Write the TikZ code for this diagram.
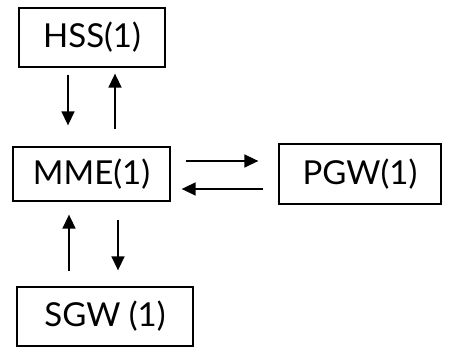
\documentclass[tikz,border=0pt]{standalone}
\usepackage{fontspec}
\setmainfont{Lato}
\usetikzlibrary{arrows.meta}
\begin{document}
\begin{tikzpicture}[x=1pt,y=1pt,
  box/.style={draw,line width=1.3pt,inner sep=0pt,font=\fontsize{33}{33}\selectfont},
  flow/.style={line width=1.5pt,-{Triangle[length=14pt,width=13pt]}}]
  \useasboundingbox (0,0) rectangle (452,347);
  \node[box,minimum width=146,minimum height=59] (hss) at (92,309.5) {HSS(1)};
  \node[box,minimum width=157,minimum height=54] (mme) at (91.5,173) {MME(1)};
  \node[box,minimum width=162,minimum height=60] (pgw) at (360,173) {PGW(1)};
  \node[box,minimum width=176,minimum height=59] (sgw) at (105,30.5) {SGW (1)};
  % hss <-> mme
  \draw[flow,shorten <=7pt,shorten >=21pt] ([xshift=-24pt]hss.south) -- ([xshift=-24pt]hss.south |- mme.north);
  \draw[flow,shorten <=17pt,shorten >=6pt] ([xshift=23pt]hss.south |- mme.north) -- ([xshift=23pt]hss.south);
  % mme <-> pgw
  \draw[flow,shorten <=15pt,shorten >=20pt] ([yshift=13pt]mme.east) -- ([yshift=13pt]mme.east -| pgw.west);
  \draw[flow,shorten <=15pt,shorten >=11pt] ([yshift=-15pt]mme.east -| pgw.west) -- ([yshift=-15pt]mme.east);
  % sgw <-> mme
  \draw[flow,shorten <=15pt,shorten >=13pt] ([xshift=-36pt]sgw.north) -- ([xshift=-36pt]sgw.north |- mme.south);
  \draw[flow,shorten <=18pt,shorten >=16pt] ([xshift=13pt]sgw.north |- mme.south) -- ([xshift=13pt]sgw.north);
\end{tikzpicture}
\end{document}
